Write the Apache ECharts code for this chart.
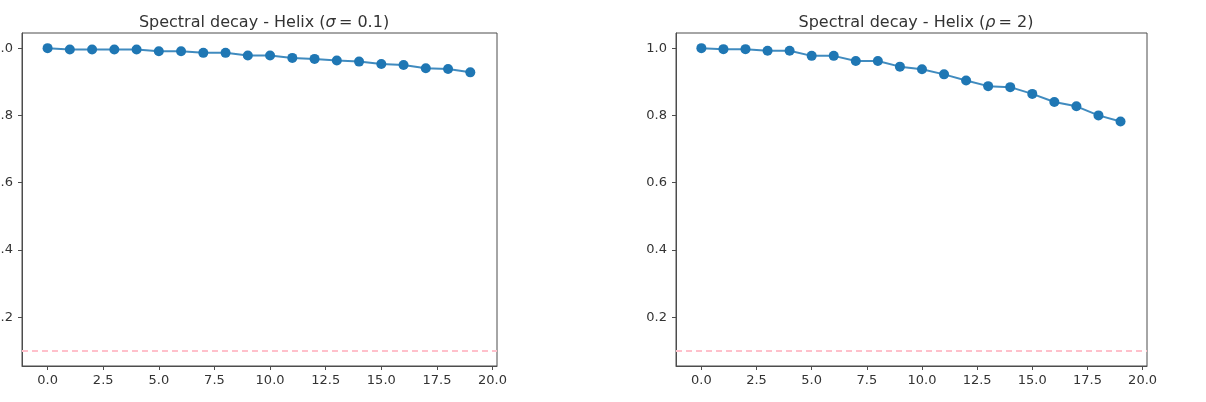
<!DOCTYPE html>
<html>
<head>
<meta charset="utf-8">
<script src="https://cdn.jsdelivr.net/npm/echarts@6/dist/echarts.min.js"></script>
<style>
    html, body { margin: 0; padding: 0; background: #fff; }
    #chart { width: 1206px; height: 402px; }
</style>
</head>
<body>
<div id="chart"></div>
<script>
    // data
    var components = [0, 1, 2, 3, 4, 5, 6, 7, 8, 9, 10, 11, 12, 13, 14, 15, 16, 17, 18, 19];
    var decaySigma = [1.000, 0.996, 0.996, 0.996, 0.996, 0.991, 0.991, 0.986, 0.986, 0.978,
                      0.978, 0.971, 0.968, 0.963, 0.960, 0.953, 0.950, 0.940, 0.938, 0.928];
    var decayRho = [1.000, 0.997, 0.997, 0.992, 0.992, 0.977, 0.977, 0.962, 0.962, 0.945,
                    0.937, 0.922, 0.904, 0.887, 0.884, 0.864, 0.840, 0.827, 0.800, 0.782];
    var threshold = 0.1;
    var xTicks = [0, 2.5, 5, 7.5, 10, 12.5, 15, 17.5, 20];
    var yTicks = [0.2, 0.4, 0.6, 0.8, 1.0];

    var blue = '#1f77b4';
    var axisColor = '#4d4d4d';
    var textColor = '#333';
    var font = 'DejaVu Sans';

    function pairs(ys) {
        return components.map(function (x, i) { return [x, ys[i]]; });
    }

    function xAxis(idx) {
        return {
            type: 'value', gridIndex: idx, min: -1.15, max: 20.2,
            axisLine: { show: true, onZero: false, lineStyle: { color: axisColor, width: 1 } },
            axisTick: { show: true, length: 4, customValues: xTicks, lineStyle: { color: axisColor } },
            axisLabel: {
                customValues: xTicks, margin: 8, color: textColor, fontFamily: font, fontSize: 13,
                formatter: function (v) { return v.toFixed(1); }
            },
            splitLine: { show: false }
        };
    }

    function yAxis(idx) {
        return {
            type: 'value', gridIndex: idx, min: 0.055, max: 1.045,
            axisLine: { show: true, onZero: false, lineStyle: { color: axisColor, width: 1 } },
            axisTick: { show: true, length: 4, customValues: yTicks, lineStyle: { color: axisColor } },
            axisLabel: {
                customValues: yTicks, margin: 9, color: textColor, fontFamily: font, fontSize: 13,
                formatter: function (v) { return v.toFixed(1); }
            },
            splitLine: { show: false }
        };
    }

    function decaySeries(idx, ys) {
        return {
            type: 'line', xAxisIndex: idx, yAxisIndex: idx,
            data: pairs(ys),
            symbol: 'circle', symbolSize: 10,
            itemStyle: { color: blue },
            lineStyle: { color: blue, width: 2, opacity: 0.85 },
            animation: false,
            markLine: {
                silent: true, symbol: 'none',
                label: { show: false },
                lineStyle: { color: '#ffc0cb', type: [6, 4], width: 2 },
                data: [{ yAxis: threshold }]
            }
        };
    }

    var titleStyle = {
        color: '#333', fontFamily: font, fontSize: 16, fontWeight: 'normal',
        rich: { i: { fontStyle: 'italic', fontFamily: font, fontSize: 16, color: '#333' } }
    };

    var myChart = echarts.init(document.getElementById('chart'));
    myChart.setOption({
        backgroundColor: '#fff',
        animation: false,
        title: [
            { text: 'Spectral decay - Helix ({i|σ}\u2009= 0.1)', left: 259, top: 10, textAlign: 'center', textStyle: titleStyle },
            { text: 'Spectral decay - Helix ({i|ρ}\u2009= 2)', left: 911, top: 10, textAlign: 'center', textStyle: titleStyle }
        ],
        grid: [
            { left: 22, right: 709, top: 33, bottom: 36, outerBoundsMode: 'none', show: true, borderColor: axisColor, borderWidth: 1 },
            { left: 676, right: 59, top: 33, bottom: 36, outerBoundsMode: 'none', show: true, borderColor: axisColor, borderWidth: 1 }
        ],
        xAxis: [xAxis(0), xAxis(1)],
        yAxis: [yAxis(0), yAxis(1)],
        series: [decaySeries(0, decaySigma), decaySeries(1, decayRho)]
    });
</script>
</body>
</html>
